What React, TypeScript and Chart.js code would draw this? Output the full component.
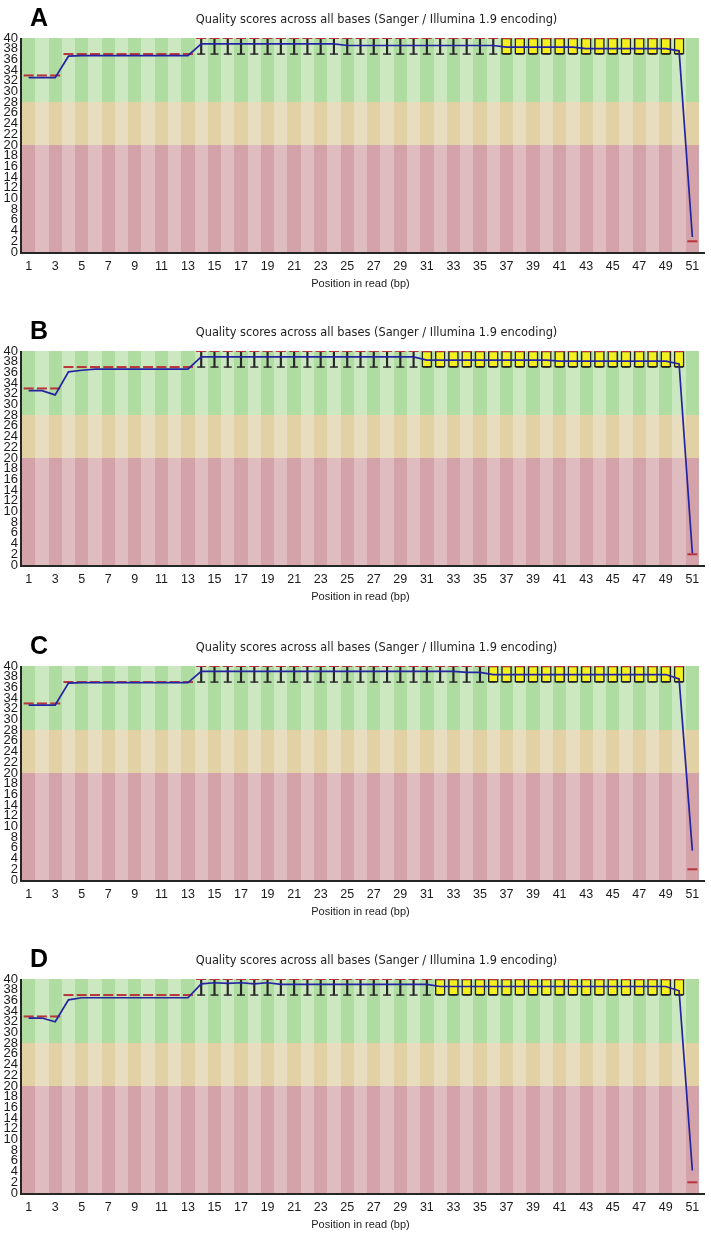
import React, { useEffect, useRef } from 'react';
import { Chart, registerables } from 'chart.js';

Chart.register(...registerables);

// ---------- data ----------
const positions = [1, 2, 3, 4, 5, 6, 7, 8, 9, 10, 11, 12, 13, 14, 15, 16, 17, 18, 19, 20, 21, 22, 23, 24, 25, 26, 27, 28, 29, 30, 31, 32, 33, 34, 35, 36, 37, 38, 39, 40, 41, 42, 43, 44, 45, 46, 47, 48, 49, 50, 51];
const xTickValues = [1, 3, 5, 7, 9, 11, 13, 15, 17, 19, 21, 23, 25, 27, 29, 31, 33, 35, 37, 39, 41, 43, 45, 47, 49, 51];
const yTickValues = [0, 2, 4, 6, 8, 10, 12, 14, 16, 18, 20, 22, 24, 26, 28, 30, 32, 34, 36, 38, 40];

const chartTitle = 'Quality scores across all bases (Sanger / Illumina 1.9 encoding)';
const xAxisTitle = 'Position in read (bp)';
const panelLetters = ['A', 'B', 'C', 'D'];

// quality zones (bad / ok / good)
const zoneLimits = [0, 20, 28, 40];
const zoneDark = ['#d4a3aa', '#e1d1a5', '#afdca1'];
const zoneLight = ['#dfbcbf', '#e8ddbf', '#cbe8c1'];

// Panel A
const meanA = [32.6, 32.6, 32.6, 36.6, 36.7, 36.7, 36.7, 36.7, 36.7, 36.7, 36.7, 36.7, 36.7, 38.9, 38.9, 38.9, 38.9, 38.9, 38.9, 38.9, 38.9, 38.9, 38.9, 38.9, 38.6, 38.6, 38.6, 38.6, 38.6, 38.6, 38.6, 38.6, 38.6, 38.6, 38.6, 38.6, 38.3, 38.3, 38.3, 38.3, 38.3, 38.3, 38.0, 38.0, 38.0, 38.0, 38.0, 38.0, 38.0, 37.6, 2.8];
const medianA = [33, 33, 33, 37, 37, 37, 37, 37, 37, 37, 37, 37, 37, 40, 40, 40, 40, 40, 40, 40, 40, 40, 40, 40, 40, 40, 40, 40, 40, 40, 40, 40, 40, 40, 40, 40, 40, 40, 40, 40, 40, 40, 40, 40, 40, 40, 40, 40, 40, 40, 2];
const q1A = [33, 33, 33, 37, 37, 37, 37, 37, 37, 37, 37, 37, 37, 40, 40, 40, 40, 40, 40, 40, 40, 40, 40, 40, 40, 40, 40, 40, 40, 40, 40, 40, 40, 40, 40, 40, 37, 37, 37, 37, 37, 37, 37, 37, 37, 37, 37, 37, 37, 37, 2];
const q3A = [33, 33, 33, 37, 37, 37, 37, 37, 37, 37, 37, 37, 37, 40, 40, 40, 40, 40, 40, 40, 40, 40, 40, 40, 40, 40, 40, 40, 40, 40, 40, 40, 40, 40, 40, 40, 40, 40, 40, 40, 40, 40, 40, 40, 40, 40, 40, 40, 40, 40, 2];
const p10A = [33, 33, 33, 37, 37, 37, 37, 37, 37, 37, 37, 37, 37, 37, 37, 37, 37, 37, 37, 37, 37, 37, 37, 37, 37, 37, 37, 37, 37, 37, 37, 37, 37, 37, 37, 37, 37, 37, 37, 37, 37, 37, 37, 37, 37, 37, 37, 37, 37, 37, 2];
const p90A = [33, 33, 33, 37, 37, 37, 37, 37, 37, 37, 37, 37, 37, 40, 40, 40, 40, 40, 40, 40, 40, 40, 40, 40, 40, 40, 40, 40, 40, 40, 40, 40, 40, 40, 40, 40, 40, 40, 40, 40, 40, 40, 40, 40, 40, 40, 40, 40, 40, 40, 2];

// Panel B
const meanB = [32.6, 32.6, 31.8, 36.1, 36.4, 36.6, 36.6, 36.6, 36.6, 36.6, 36.6, 36.6, 36.6, 38.9, 38.9, 38.9, 38.9, 38.9, 38.9, 38.9, 38.9, 38.9, 38.9, 38.9, 38.9, 38.9, 38.9, 38.9, 38.9, 38.9, 38.3, 38.3, 38.3, 38.3, 38.3, 38.3, 38.3, 38.3, 38.3, 38.3, 38.1, 38.1, 38.1, 38.1, 38.1, 38.1, 38.1, 38.1, 38.1, 37.6, 2.2];
const medianB = [33, 33, 33, 37, 37, 37, 37, 37, 37, 37, 37, 37, 37, 40, 40, 40, 40, 40, 40, 40, 40, 40, 40, 40, 40, 40, 40, 40, 40, 40, 40, 40, 40, 40, 40, 40, 40, 40, 40, 40, 40, 40, 40, 40, 40, 40, 40, 40, 40, 40, 2];
const q1B = [33, 33, 33, 37, 37, 37, 37, 37, 37, 37, 37, 37, 37, 40, 40, 40, 40, 40, 40, 40, 40, 40, 40, 40, 40, 40, 40, 40, 40, 40, 37, 37, 37, 37, 37, 37, 37, 37, 37, 37, 37, 37, 37, 37, 37, 37, 37, 37, 37, 37, 2];
const q3B = [33, 33, 33, 37, 37, 37, 37, 37, 37, 37, 37, 37, 37, 40, 40, 40, 40, 40, 40, 40, 40, 40, 40, 40, 40, 40, 40, 40, 40, 40, 40, 40, 40, 40, 40, 40, 40, 40, 40, 40, 40, 40, 40, 40, 40, 40, 40, 40, 40, 40, 2];
const p10B = [33, 33, 33, 37, 37, 37, 37, 37, 37, 37, 37, 37, 37, 37, 37, 37, 37, 37, 37, 37, 37, 37, 37, 37, 37, 37, 37, 37, 37, 37, 37, 37, 37, 37, 37, 37, 37, 37, 37, 37, 37, 37, 37, 37, 37, 37, 37, 37, 37, 37, 2];
const p90B = [33, 33, 33, 37, 37, 37, 37, 37, 37, 37, 37, 37, 37, 40, 40, 40, 40, 40, 40, 40, 40, 40, 40, 40, 40, 40, 40, 40, 40, 40, 40, 40, 40, 40, 40, 40, 40, 40, 40, 40, 40, 40, 40, 40, 40, 40, 40, 40, 40, 40, 2];

// Panel C
const meanC = [32.7, 32.7, 32.7, 36.8, 36.9, 36.9, 36.9, 36.9, 36.9, 36.9, 36.9, 36.9, 36.9, 39.0, 39.0, 39.0, 39.0, 39.0, 39.0, 39.0, 39.0, 39.0, 39.0, 39.0, 39.0, 39.0, 39.0, 39.0, 39.0, 39.0, 39.0, 39.0, 39.0, 38.8, 38.8, 38.4, 38.4, 38.4, 38.4, 38.4, 38.4, 38.4, 38.4, 38.4, 38.4, 38.4, 38.4, 38.4, 38.4, 37.6, 5.5];
const medianC = [33, 33, 33, 37, 37, 37, 37, 37, 37, 37, 37, 37, 37, 40, 40, 40, 40, 40, 40, 40, 40, 40, 40, 40, 40, 40, 40, 40, 40, 40, 40, 40, 40, 40, 40, 40, 40, 40, 40, 40, 40, 40, 40, 40, 40, 40, 40, 40, 40, 40, 2];
const q1C = [33, 33, 33, 37, 37, 37, 37, 37, 37, 37, 37, 37, 37, 40, 40, 40, 40, 40, 40, 40, 40, 40, 40, 40, 40, 40, 40, 40, 40, 40, 40, 40, 40, 40, 40, 37, 37, 37, 37, 37, 37, 37, 37, 37, 37, 37, 37, 37, 37, 37, 2];
const q3C = [33, 33, 33, 37, 37, 37, 37, 37, 37, 37, 37, 37, 37, 40, 40, 40, 40, 40, 40, 40, 40, 40, 40, 40, 40, 40, 40, 40, 40, 40, 40, 40, 40, 40, 40, 40, 40, 40, 40, 40, 40, 40, 40, 40, 40, 40, 40, 40, 40, 40, 2];
const p10C = [33, 33, 33, 37, 37, 37, 37, 37, 37, 37, 37, 37, 37, 37, 37, 37, 37, 37, 37, 37, 37, 37, 37, 37, 37, 37, 37, 37, 37, 37, 37, 37, 37, 37, 37, 37, 37, 37, 37, 37, 37, 37, 37, 37, 37, 37, 37, 37, 37, 37, 2];
const p90C = [33, 33, 33, 37, 37, 37, 37, 37, 37, 37, 37, 37, 37, 40, 40, 40, 40, 40, 40, 40, 40, 40, 40, 40, 40, 40, 40, 40, 40, 40, 40, 40, 40, 40, 40, 40, 40, 40, 40, 40, 40, 40, 40, 40, 40, 40, 40, 40, 40, 40, 2];

// Panel D
const meanD = [32.7, 32.7, 32.0, 36.1, 36.5, 36.5, 36.5, 36.5, 36.5, 36.5, 36.5, 36.5, 36.5, 39.1, 39.3, 39.2, 39.3, 39.1, 39.3, 39.0, 39.0, 39.0, 39.0, 39.0, 39.0, 39.0, 39.0, 39.0, 39.0, 39.0, 39.0, 38.6, 38.6, 38.6, 38.6, 38.6, 38.6, 38.6, 38.6, 38.6, 38.6, 38.6, 38.6, 38.6, 38.6, 38.6, 38.6, 38.6, 38.6, 37.8, 4.2];
const medianD = [33, 33, 33, 37, 37, 37, 37, 37, 37, 37, 37, 37, 37, 40, 40, 40, 40, 40, 40, 40, 40, 40, 40, 40, 40, 40, 40, 40, 40, 40, 40, 40, 40, 40, 40, 40, 40, 40, 40, 40, 40, 40, 40, 40, 40, 40, 40, 40, 40, 40, 2];
const q1D = [33, 33, 33, 37, 37, 37, 37, 37, 37, 37, 37, 37, 37, 40, 40, 40, 40, 40, 40, 40, 40, 40, 40, 40, 40, 40, 40, 40, 40, 40, 40, 37, 37, 37, 37, 37, 37, 37, 37, 37, 37, 37, 37, 37, 37, 37, 37, 37, 37, 37, 2];
const q3D = [33, 33, 33, 37, 37, 37, 37, 37, 37, 37, 37, 37, 37, 40, 40, 40, 40, 40, 40, 40, 40, 40, 40, 40, 40, 40, 40, 40, 40, 40, 40, 40, 40, 40, 40, 40, 40, 40, 40, 40, 40, 40, 40, 40, 40, 40, 40, 40, 40, 40, 2];
const p10D = [33, 33, 33, 37, 37, 37, 37, 37, 37, 37, 37, 37, 37, 37, 37, 37, 37, 37, 37, 37, 37, 37, 37, 37, 37, 37, 37, 37, 37, 37, 37, 37, 37, 37, 37, 37, 37, 37, 37, 37, 37, 37, 37, 37, 37, 37, 37, 37, 37, 37, 2];
const p90D = [33, 33, 33, 37, 37, 37, 37, 37, 37, 37, 37, 37, 37, 40, 40, 40, 40, 40, 40, 40, 40, 40, 40, 40, 40, 40, 40, 40, 40, 40, 40, 40, 40, 40, 40, 40, 40, 40, 40, 40, 40, 40, 40, 40, 40, 40, 40, 40, 40, 40, 2];

// ---------- styling ----------
const FONT = '"Liberation Sans", Arial, sans-serif';
const TITLE_FONT = '"DejaVu Sans", Verdana, sans-serif';
const CANVAS_W = 711;
const CANVAS_H = 296;
const panelTops = [0, 313, 628, 941];

type PanelProps = {
  top: number;
  letter: string;
  mean: number[];
  median: number[];
  q1: number[];
  q3: number[];
  p10: number[];
  p90: number[];
};

const bandsPlugin = {
  id: 'qualityBands',
  beforeDatasetsDraw(chart: any) {
    const { ctx, scales } = chart;
    const xs = scales.x;
    const ys = scales.y;
    ctx.save();
    positions.forEach((p, i) => {
      const x0 = Math.round(xs.getPixelForValue(p - 0.5));
      const x1 = Math.round(xs.getPixelForValue(p + 0.5));
      for (let z = 0; z < zoneLimits.length - 1; z++) {
        const y0 = Math.round(ys.getPixelForValue(zoneLimits[z + 1]));
        const y1 = Math.round(ys.getPixelForValue(zoneLimits[z]));
        ctx.fillStyle = i % 2 === 0 ? zoneDark[z] : zoneLight[z];
        ctx.fillRect(x0, y0, x1 - x0, y1 - y0);
      }
    });
    ctx.restore();
  },
};

const framePlugin = {
  id: 'frame',
  afterDraw(chart: any) {
    const { ctx, chartArea } = chart;
    const { left, right, top, bottom } = chartArea;
    ctx.save();
    ctx.strokeStyle = '#262626';
    ctx.lineWidth = 2;
    ctx.beginPath();
    ctx.moveTo(left - 1, top);
    ctx.lineTo(left - 1, bottom + 1);
    ctx.lineTo(right + 6, bottom + 1);
    ctx.stroke();
    ctx.fillStyle = '#222';
    ctx.font = `11.4px ${TITLE_FONT}`;
    ctx.textAlign = 'center';
    ctx.textBaseline = 'middle';
    ctx.fillText(chartTitle, (left + right) / 2 + 16, top - 18);
    ctx.restore();
  },
};

function Panel({ top, letter, mean, median, q1, q3, p10, p90 }: PanelProps) {
  const ref = useRef<HTMLCanvasElement>(null);

  useEffect(() => {
    const canvas = ref.current;
    if (!canvas) return;

    const meanData = positions.map((x, i) => ({ x, y: mean[i] }));
    const medianData = positions.map((x, i) => ({ x, y: median[i] }));
    const boxData = positions.flatMap((x, i) => (q3[i] > q1[i] ? [{ x, y: [q1[i], q3[i]] }] : []));
    const whiskerData = positions.flatMap((x, i) => (p90[i] > p10[i] ? [{ x, y: [p10[i], p90[i]] }] : []));
    const capData = positions.flatMap((x, i) =>
      p90[i] > p10[i] ? [{ x, y: p10[i] }, { x, y: p90[i] }] : []
    );

    const chart = new Chart(canvas, {
      type: 'bar',
      data: {
        datasets: [
          {
            type: 'line',
            label: 'Mean',
            data: meanData as any,
            borderColor: '#2424a2',
            borderWidth: 1.7,
            pointRadius: 0,
            tension: 0,
            order: 0,
          },
          {
            type: 'line',
            label: 'Median',
            data: medianData as any,
            showLine: false,
            pointStyle: 'line',
            pointRadius: 5,
            pointBorderColor: '#b8333b',
            pointBorderWidth: 2,
            order: 1,
          },
          {
            type: 'bar',
            label: 'Inter-quartile range',
            data: boxData as any,
            backgroundColor: '#f4f020',
            borderColor: '#222222',
            borderWidth: 1.5,
            borderSkipped: false,
            barThickness: 10,
            grouped: false,
            order: 2,
          },
          {
            type: 'line',
            label: 'Whisker caps',
            data: capData as any,
            showLine: false,
            pointStyle: 'line',
            pointRadius: 4,
            pointBorderColor: '#262626',
            pointBorderWidth: 1.4,
            order: 3,
          },
          {
            type: 'bar',
            label: '10-90%',
            data: whiskerData as any,
            backgroundColor: '#262626',
            borderWidth: 0,
            barThickness: 1.5,
            grouped: false,
            order: 4,
          },
        ] as any,
      },
      options: {
        responsive: false,
        animation: false,
        devicePixelRatio: 1,
        layout: { padding: { top: 38, right: 12, left: 0, bottom: 0 } },
        plugins: {
          legend: { display: false },
          tooltip: { enabled: false },
          title: { display: false },
        },
        scales: {
          x: {
            type: 'linear',
            min: 0.5,
            max: 51.5,
            offset: false,
            grid: { display: false, drawTicks: false },
            border: { display: false },
            afterBuildTicks: (axis: any) => {
              axis.ticks = xTickValues.map((v) => ({ value: v }));
            },
            afterFit: (axis: any) => {
              axis.height = 44;
            },
            ticks: {
              autoSkip: false,
              maxRotation: 0,
              padding: 7,
              color: '#1a1a1a',
              font: { family: FONT, size: 12.5 },
              callback: (v: any) => String(v),
            },
            title: {
              display: true,
              text: xAxisTitle,
              color: '#222',
              font: { family: FONT, size: 11, lineHeight: 1.2 },
              padding: { top: 0, bottom: 5 },
            },
          },
          y: {
            type: 'linear',
            min: 0,
            max: 40,
            grid: { display: false, drawTicks: false },
            border: { display: false },
            afterBuildTicks: (axis: any) => {
              axis.ticks = yTickValues.map((v) => ({ value: v }));
            },
            afterFit: (axis: any) => {
              axis.width = 22;
            },
            ticks: {
              autoSkip: false,
              padding: 4,
              color: '#1a1a1a',
              font: { family: FONT, size: 13, lineHeight: 1 },
            },
          },
        },
      } as any,
      plugins: [bandsPlugin, framePlugin],
    });

    return () => chart.destroy();
  }, []);

  return (
    <div style={{ position: 'absolute', left: 0, top, width: CANVAS_W, height: CANVAS_H }}>
      <canvas ref={ref} width={CANVAS_W} height={CANVAS_H} style={{ display: 'block' }} />
      <div
        style={{
          position: 'absolute',
          left: 30,
          top: 5,
          fontFamily: FONT,
          fontWeight: 'bold',
          fontSize: 25,
          lineHeight: '24px',
          color: '#000',
        }}
      >
        {letter}
      </div>
    </div>
  );
}

export default function App() {
  useEffect(() => {
    document.body.style.margin = '0';
    document.body.style.background = '#fff';
  }, []);

  const panels = [
    { mean: meanA, median: medianA, q1: q1A, q3: q3A, p10: p10A, p90: p90A },
    { mean: meanB, median: medianB, q1: q1B, q3: q3B, p10: p10B, p90: p90B },
    { mean: meanC, median: medianC, q1: q1C, q3: q3C, p10: p10C, p90: p90C },
    { mean: meanD, median: medianD, q1: q1D, q3: q3D, p10: p10D, p90: p90D },
  ];

  return (
    <div style={{ position: 'relative', width: CANVAS_W, height: 1237, background: '#fff', overflow: 'hidden' }}>
      {panels.map((p, i) => (
        <Panel key={panelLetters[i]} top={panelTops[i]} letter={panelLetters[i]} {...p} />
      ))}
    </div>
  );
}
